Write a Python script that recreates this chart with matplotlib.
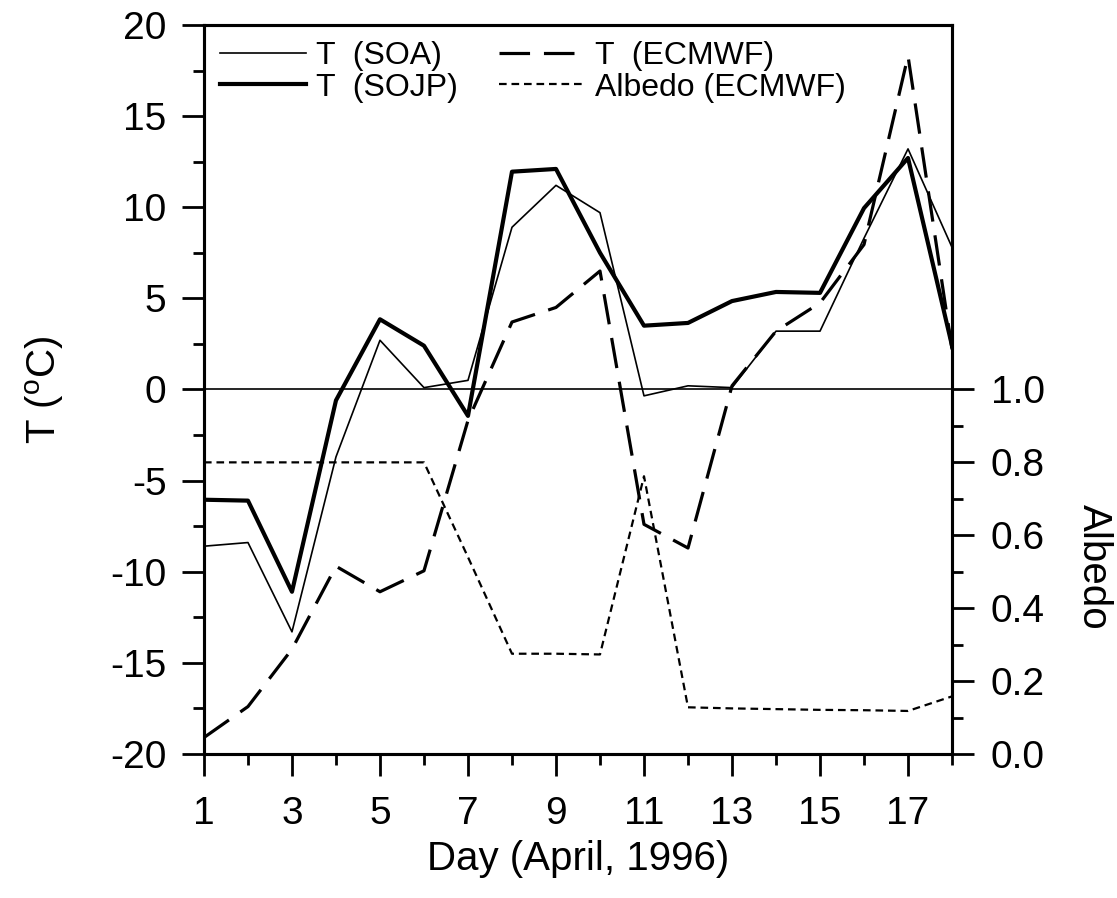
import matplotlib
matplotlib.use('Agg')
from matplotlib import pyplot as plt
from matplotlib.ticker import MultipleLocator, FixedLocator

plt.rcParams['font.family'] = ['Liberation Sans', 'DejaVu Sans']
plt.rcParams['mathtext.fontset'] = 'custom'
plt.rcParams['mathtext.rm'] = 'Liberation Sans'
plt.rcParams['lines.scale_dashes'] = False
plt.rcParams['axes.unicode_minus'] = False

days = list(range(1, 19))
t_soa = [-8.6, -8.4, -13.3, -3.7, 2.7, 0.1, 0.5, 8.9, 11.2, 9.7,
         -0.35, 0.2, 0.1, 3.2, 3.2, 8.3, 13.2, 7.8]
t_sojp = [-6.05, -6.1, -11.1, -0.6, 3.85, 2.4, -1.45, 11.95, 12.1, 7.5,
          3.5, 3.65, 4.85, 5.35, 5.3, 9.95, 12.7, 2.4]
t_ecmwf = [-19.1, -17.4, -14.25, -9.7, -11.1, -9.95, -1.7, 3.7, 4.5, 6.5,
           -7.4, -8.7, 0.2, 3.2, 4.75, 7.95, 18.3, 2.2]
albedo = [0.80, 0.80, 0.80, 0.80, 0.80, 0.80, 0.54, 0.275, 0.275, 0.273,
          0.762, 0.128, 0.125, 0.123, 0.121, 0.12, 0.118, 0.158]

fig = plt.figure(figsize=(11.17, 8.98), dpi=100)
ax = fig.add_axes([0.1826, 0.1604, 0.6697, 0.8118])
ax2 = ax.twinx()

ax.plot(days, t_soa, color='black', lw=1.2, label='T  (SOA)')
ax.plot(days, t_sojp, color='black', lw=3.0, label='T  (SOJP)')
ax.plot(days, t_ecmwf, color='black', lw=2.3, dashes=(22, 10),
        label='T  (ECMWF)')
ax2.plot(days, albedo, color='black', lw=1.6, dashes=(5.5, 3.5),
         label='Albedo (ECMWF)')
ax.axhline(0, color='black', lw=1.2)

ax.set_xlim(1, 18)
ax.set_ylim(-20, 20)
ax2.set_ylim(0, 2)

ax.xaxis.set_major_locator(FixedLocator(range(1, 18, 2)))
ax.xaxis.set_minor_locator(FixedLocator(range(2, 19, 2)))
ax.yaxis.set_major_locator(MultipleLocator(5))
ax.yaxis.set_minor_locator(MultipleLocator(2.5))
ax2.yaxis.set_major_locator(FixedLocator([0, 0.2, 0.4, 0.6, 0.8, 1.0]))
ax2.yaxis.set_minor_locator(FixedLocator([0.1, 0.3, 0.5, 0.7, 0.9]))
ax2.set_yticklabels(['0.0', '0.2', '0.4', '0.6', '0.8', '1.0'])

for a in (ax, ax2):
    for s in a.spines.values():
        s.set_linewidth(2.2)
ax.tick_params(axis='both', which='major', direction='out', length=16,
               width=2.0, labelsize=28)
ax.tick_params(axis='both', which='minor', direction='out', length=8,
               width=2.0)
ax.tick_params(axis='x', which='major', pad=14)
ax.tick_params(axis='y', which='major', pad=11)
ax2.tick_params(axis='y', which='major', direction='out', length=16,
                width=2.0, labelsize=28, pad=12)
ax2.tick_params(axis='y', which='minor', direction='out', length=8,
                width=2.0)

ax.set_xlabel('Day (April, 1996)', fontsize=29, labelpad=6)
ax.set_ylabel('T ($^{\\rm o}$C)', fontsize=29, labelpad=32)
ax2.set_ylabel('Albedo', fontsize=29, rotation=270)
ax2.yaxis.set_label_coords(1.215, 0.257)

h1, l1 = ax.get_legend_handles_labels()
h2, l2 = ax2.get_legend_handles_labels()
handles = [h1[0], h1[1], h1[2], h2[0]]
labels = [l1[0], l1[1], l1[2], l2[0]]
ax2.legend(handles, labels, ncol=2, frameon=False, fontsize=23,
           loc='upper left', bbox_to_anchor=(0.0, 1.0), borderaxespad=0.1,
           handlelength=2.7, handletextpad=0.3, columnspacing=1.3,
           labelspacing=0.05)

fig.savefig('out.png', dpi=100)
